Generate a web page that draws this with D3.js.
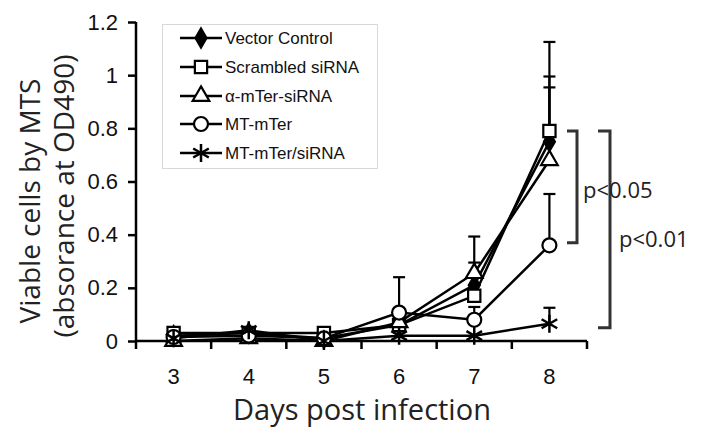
<!DOCTYPE html>
<html><head><meta charset="utf-8">
<script src="https://cdn.jsdelivr.net/npm/d3@7"></script>
<style>body{margin:0;background:#fff}svg{display:block}</style>
</head><body><svg id="c" width="704" height="443"></svg>
<script>
const days = ["3","4","5","6","7","8"];
const yTicks = [0,0.2,0.4,0.6,0.8,1,1.2];
const seriesNames = ["Vector Control","Scrambled siRNA","α-mTer-siRNA","MT-mTer","MT-mTer/siRNA"];
const vectorControl = [0.02,0.03,0.01,0.06,0.21,0.75];
const scrambled     = [0.03,0.03,0.03,0.06,0.17,0.79];
const alphaSi       = [0.00,0.01,0.00,0.07,0.255,0.68];
const mtMter        = [0.015,0.02,0.01,0.107,0.08,0.36];
const mtMterSi      = [0.01,0.04,0.00,0.02,0.02,0.065];
const errVector     = [0,0,0,0,0.085,0.245];
const errScrambled  = [0,0,0,0,0,0.335];
const errAlpha      = [0,0,0,0,0.138,0.274];
const errMtMter     = [0,0,0,0.133,0.048,0.193];
const errMtMterSi   = [0,0,0,0,0,0.06];
const pLabels = ["p<0.05","p<0.01"];
const xTitle = "Days post infection";
const yTitle1 = "Viable cells by MTS";
const yTitle2 = "(absorance at OD490)";

const values = [vectorControl, scrambled, alphaSi, mtMter, mtMterSi];
const errs = [errVector, errScrambled, errAlpha, errMtMter, errMtMterSi];
const shapes = ["diamond","square","triangle","circle","star"];
const tickFont = "'Liberation Sans Narrow', 'Arial Narrow', 'Liberation Sans', Arial, sans-serif";

const svg = d3.select("#c");
const x = d3.scaleBand().domain(days).range([136,587]).padding(0);
const y = d3.scaleLinear().domain([0,1.2]).range([341,22]);
const xc = d => x(d) + x.bandwidth()/2;

function marker(g, shape, cx, cy) {
  if (shape === "diamond") {
    g.append("path").attr("d", d3.symbol(d3.symbolDiamond, 120)())
      .attr("transform", `translate(${cx},${cy})`).attr("fill","#000").attr("stroke","#000").attr("stroke-width",1.5);
  } else if (shape === "square") {
    g.append("path").attr("d", d3.symbol(d3.symbolSquare, 150)())
      .attr("transform", `translate(${cx},${cy})`).attr("fill","#fff").attr("stroke","#000").attr("stroke-width",2.2);
  } else if (shape === "triangle") {
    g.append("path").attr("d", d3.symbol(d3.symbolTriangle, 120)())
      .attr("transform", `translate(${cx},${cy})`).attr("fill","#fff").attr("stroke","#000").attr("stroke-width",2.2);
  } else if (shape === "circle") {
    g.append("circle").attr("cx",cx).attr("cy",cy).attr("r",7)
      .attr("fill","#fff").attr("stroke","#000").attr("stroke-width",2.2);
  } else {
    const r = 9;
    const p = d3.path();
    p.moveTo(0,-r); p.lineTo(0,r);
    const a = Math.PI/3;
    p.moveTo(-r*Math.sin(a),-r*Math.cos(a)); p.lineTo(r*Math.sin(a),r*Math.cos(a));
    p.moveTo(r*Math.sin(a),-r*Math.cos(a)); p.lineTo(-r*Math.sin(a),r*Math.cos(a));
    g.append("path").attr("d", p.toString()).attr("transform", `translate(${cx},${cy})`)
      .attr("fill","none").attr("stroke","#000").attr("stroke-width",2.5);
  }
}

// axes
const yAxis = d3.axisLeft(y).tickValues(yTicks).tickSize(8).tickPadding(10)
  .tickFormat(d => String(+d.toFixed(1)));
const gy = svg.append("g").attr("transform","translate(136,0)").call(yAxis);
gy.select(".domain").attr("stroke","#000").attr("stroke-width",2.5).attr("d","M0,22V341");
gy.selectAll(".tick line").attr("stroke","#000").attr("stroke-width",2.5);
gy.selectAll(".tick text").attr("font-family",tickFont).attr("font-size",22).attr("fill","#111");

const xAxis = d3.axisBottom(x).tickSize(0).tickPadding(27);
const gx = svg.append("g").attr("transform","translate(0,341)").call(xAxis);
gx.select(".domain").attr("stroke","#000").attr("stroke-width",2.5).attr("d","M136,0H587");
gx.selectAll(".tick text").attr("font-family",tickFont).attr("font-size",22).attr("fill","#111");
const bounds = days.map(d => x(d)).concat([x(days[days.length-1]) + x.bandwidth()]);
gx.selectAll("line.bt").data(bounds).enter().append("line").attr("class","bt")
  .attr("x1",d=>d).attr("x2",d=>d).attr("y1",0).attr("y2",8)
  .attr("stroke","#000").attr("stroke-width",2.5);

// titles
svg.append("text").attr("x",362).attr("y",420).attr("text-anchor","middle")
  .attr("font-family","'Open Sans', sans-serif").attr("font-size",29).attr("fill","#222").text(xTitle);
svg.append("text").attr("transform","translate(40,201) rotate(-90)").attr("text-anchor","middle")
  .attr("font-family","'Open Sans', sans-serif").attr("font-size",28).attr("fill","#222").text(yTitle1);
svg.append("text").attr("transform","translate(74,196) rotate(-90)").attr("text-anchor","middle")
  .attr("font-family","'Open Sans', sans-serif").attr("font-size",28).attr("fill","#222").text(yTitle2);

// series
const plot = svg.append("g");
const line = d3.line().x((d,i)=>xc(days[i])).y(d=>y(d));
values.forEach((vals,s) => {
  plot.append("path").attr("d", line(vals)).attr("fill","none").attr("stroke","#000").attr("stroke-width",2.5);
});
values.forEach((vals,s) => {
  vals.forEach((v,i) => {
    const e = errs[s][i];
    if (e > 0) {
      const cx = xc(days[i]);
      plot.append("line").attr("x1",cx).attr("x2",cx).attr("y1",y(v)).attr("y2",y(v+e)).attr("stroke","#000").attr("stroke-width",2.2);
      plot.append("line").attr("x1",cx-6).attr("x2",cx+6).attr("y1",y(v+e)).attr("y2",y(v+e)).attr("stroke","#000").attr("stroke-width",2.2);
    }
  });
});
values.forEach((vals,s) => {
  vals.forEach((v,i) => marker(plot, shapes[s], xc(days[i]), y(v)));
});

// legend
const lg = svg.append("g");
lg.append("rect").attr("x",162.5).attr("y",24.5).attr("width",215).attr("height",144)
  .attr("fill","#fff").attr("stroke","#d8d8d8").attr("stroke-width",1);
const rowY = [38,67,96,124,153];
seriesNames.forEach((n,i) => {
  lg.append("line").attr("x1",180).attr("x2",222).attr("y1",rowY[i]).attr("y2",rowY[i]).attr("stroke","#000").attr("stroke-width",2.5);
  marker(lg, shapes[i], 201, rowY[i]);
  lg.append("text").attr("x",225).attr("y",rowY[i]+6).attr("font-family","'Liberation Sans', Arial, sans-serif")
    .attr("font-size",17).attr("fill","#111").text(n);
});

// significance brackets
const br = svg.append("g").attr("fill","none").attr("stroke","#333").attr("stroke-width",3);
br.append("path").attr("d", `M567,${y(0.79)}H577V${y(0.37)}H567`);
br.append("path").attr("d", `M598,${y(0.79)}H610V${y(0.05)}H598`);
svg.append("text").attr("x",583).attr("y",198).attr("font-family","'Open Sans', sans-serif").attr("font-size",22).attr("fill","#222").text(pLabels[0]);
svg.append("text").attr("x",619).attr("y",247).attr("font-family","'Open Sans', sans-serif").attr("font-size",22).attr("fill","#222").text(pLabels[1]);
</script></body></html>
